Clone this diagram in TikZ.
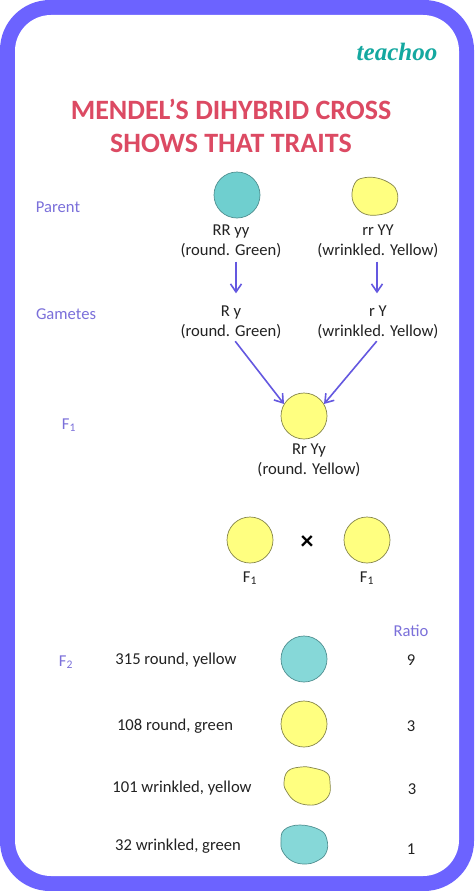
\documentclass[tikz,border=0pt]{standalone}
\usepackage{fontspec}
\setmainfont{Carlito}
\newfontfamily\logofont{Liberation Serif}
\usetikzlibrary{arrows.meta}
\definecolor{band}{HTML}{6C63FF}
\definecolor{titlered}{HTML}{DC4A63}
\definecolor{lilac}{HTML}{7B70DA}
\definecolor{arrowc}{HTML}{6458E0}
\definecolor{tealA}{HTML}{6FCFCF}
\definecolor{tealB}{HTML}{86D8D8}
\definecolor{yel}{HTML}{FFFF80}
\definecolor{yelline}{HTML}{85854A}
\definecolor{tealline}{HTML}{4F8F90}
\definecolor{logoc}{HTML}{14A8A0}
\definecolor{ink}{HTML}{222222}
\tikzset{
  x=1pt,y=-1pt,
  yellowball/.style={circle,draw=yelline,fill=yel,line width=.7pt,minimum size=46pt,inner sep=0pt},
  tealball/.style={circle,draw=tealline,fill=tealB,line width=.7pt,minimum size=46pt,inner sep=0pt},
  yellowblob/.style={draw=yelline,fill=yel,line width=.7pt},
  tealblob/.style={draw=tealline,fill=tealB,line width=.7pt},
  txt/.style={text=ink,font=\fontsize{16.6}{20}\selectfont,align=center,inner sep=1pt},
  sidelabel/.style={text=lilac,font=\fontsize{16.6}{20}\selectfont,inner sep=1pt},
  titletext/.style={text=titlered,font=\fontsize{28}{33}\selectfont\bfseries,align=center,inner sep=0pt},
  link/.style={draw=arrowc,line width=1.6pt,-{Straight Barb[length=8pt,width=11pt,line width=1.6pt]}},
}
\begin{document}
\begin{tikzpicture}
\useasboundingbox (0,0) rectangle (474,891);
% frame
\fill[white] (0,0) rectangle (474,891);
\fill[band,rounded corners=50pt] (0,0) rectangle (474,891);
\fill[white,rounded corners=36pt] (15,15) rectangle (459,876);
% logo
\node[text=logoc,font=\logofont\fontsize{25}{25}\selectfont\bfseries\itshape,inner sep=0pt] (logo) at (397,52) {teachoo};
% title
\node[titletext] (title) at (231,126) {MENDEL’S DIHYBRID CROSS\\SHOWS THAT TRAITS};
% side labels
\node[sidelabel] (parent) at (58,207) {Parent};
\node[sidelabel] (gametes) at (66,314) {Gametes};
\node[sidelabel] (fone) at (69,425) {F\textsubscript{1}};
\node[sidelabel] (ftwo) at (66,662) {F\textsubscript{2}};
\node[sidelabel] (ratio) at (411,631) {Ratio};
% parents
\node[tealball,fill=tealA] (p1) at (237,195) {};
\path[yellowblob] plot[smooth cycle,tension=.7] coordinates {(352,196) (355,183) (363,178) (377,178) (391,184) (397,192) (397,203) (391,211) (378,215) (365,214) (356,207)};
\node[inner sep=0pt,minimum size=44pt] (p2) at (375,196) {};
\node[txt] (p1t) at (231,241) {RR yy\\(round. Green)};
\node[txt] (p2t) at (378,241) {rr YY\\(wrinkled. Yellow)};
% gametes
\node[txt] (g1t) at (231,322) {R y\\(round. Green)};
\node[txt] (g2t) at (378,322) {r Y\\(wrinkled. Yellow)};
% F1
\node[yellowball] (f1) at (304,416) {};
\node[txt] (f1t) at (309,460) {Rr Yy\\(round. Yellow)};
% cross
\node[yellowball] (c1) at (250,540) {};
\node[yellowball] (c2) at (367,540) {};
\node[text=black,font=\fontsize{26}{26}\selectfont\bfseries,inner sep=0pt] (times) at (307,543) {×};
\node[txt] (c1t) at (250,578) {F\textsubscript{1}};
\node[txt] (c2t) at (367,578) {F\textsubscript{1}};
% F2 rows
\node[txt] (r1) at (176,660) {315 round, yellow};
\node[txt] (r2) at (175,726) {108 round, green};
\node[txt] (r3) at (182,788) {101 wrinkled, yellow};
\node[txt] (r4) at (178,846) {32 wrinkled, green};
\node[tealball] (b1) at (304,659) {};
\node[yellowball] (b2) at (304,724) {};
\path[yellowblob] plot[smooth cycle,tension=.7] coordinates {(284,783) (288,771) (301,767) (313,768) (327,773) (330,783) (329,795) (320,803) (308,805) (295,801) (287,792)};
\path[tealblob] plot[smooth cycle,tension=.7] coordinates {(281,842) (284,830) (300,825) (320,830) (327,840) (326,853) (317,861) (305,864) (292,861) (283,852)};
\node[txt] (n1) at (411,660) {9};
\node[txt] (n2) at (411,726) {3};
\node[txt] (n3) at (412,789) {3};
\node[txt] (n4) at (411,849) {1};
% connectors
\draw[link,shorten <=3pt,shorten >=11pt] ([xshift=5pt]p1t.south) -- ([xshift=5pt]g1t.north);
\draw[link,shorten <=3pt,shorten >=11pt] ([xshift=-1pt]p2t.south) -- ([xshift=-1pt]g2t.north);
\draw[link,shorten <=2pt] ([xshift=3pt]g1t.south) -- (f1.149);
\draw[link,shorten <=2pt] (g2t.south) -- (f1.31);
\end{tikzpicture}
\end{document}
